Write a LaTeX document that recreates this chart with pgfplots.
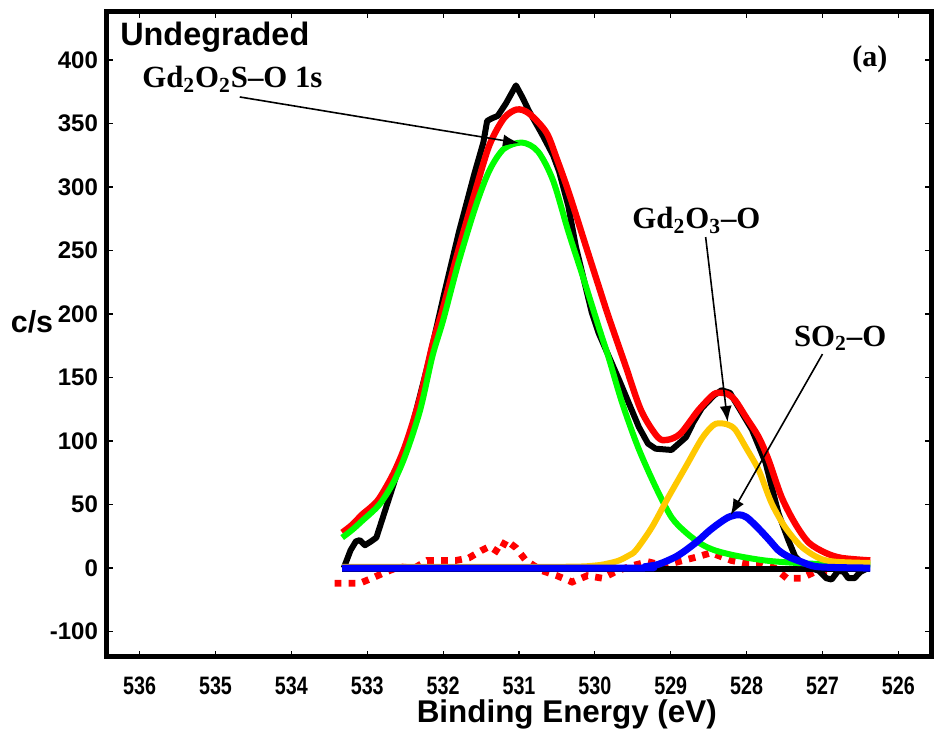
\documentclass[border=0pt]{standalone}
\usepackage{fontspec}
\setmainfont{Liberation Sans}
\newfontfamily\tnr{Liberation Serif}
\usepackage{graphicx}
\usepackage{pgfplots}
\pgfplotsset{compat=1.18}
\usetikzlibrary{arrows.meta}
\definecolor{fgreen}{RGB}{0,255,0}
\definecolor{fyellow}{RGB}{255,200,0}
\definecolor{fred}{RGB}{255,0,0}
\definecolor{fblue}{RGB}{0,0,255}
\newcommand\sx[1]{\scalebox{0.82}[1.05]{#1}}

\pgfplotstableread{
x y
533.31 0
533.22 14
533.15 21
533.10 22
533.03 18
532.95 21
532.88 24
532.75 48
532.62 72
532.41 111
532.18 165
531.99 215
531.79 265
531.59 310
531.47 335
531.42 352
531.36 354
531.28 356
531.17 366
531.04 380
530.95 370
530.87 360
530.70 342
530.55 325
530.47 312
530.35 285
530.25 253
530.04 201
529.95 185
529.68 148
529.42 111
529.30 98
529.20 94
528.99 93
528.80 103
528.70 115
528.59 126
528.43 136
528.33 140
528.22 138
528.11 127
527.93 109
527.75 83
527.58 43
527.45 22
527.36 9
527.22 1
527.05 -2
526.95 -8
526.88 -9
526.79 -2
526.72 -3
526.66 -8
526.58 -8
526.50 -3
526.40 0
}\rawdata

\pgfplotstableread{
x y
533.33 28
533.20 34
533.07 42
532.95 48
532.84 55
532.65 75
532.49 98
532.30 135
532.14 176
532.00 205
531.80 250
531.57 298
531.39 333
531.20 354
531.03 361
530.87 358
530.64 343
530.50 322
530.34 295
530.10 250
529.95 222
529.82 198
529.60 160
529.39 124
529.17 103
529.04 101
528.87 106
528.64 124
528.45 136
528.37 138
528.25 137
528.15 132
528.01 119
527.84 103
527.71 85
527.54 56
527.36 35
527.18 20
526.96 12
526.75 8
526.37 6
}\envelope

\pgfplotstableread{
x y
533.33 24
533.20 30
533.07 37
532.84 50
532.65 68
532.49 90
532.30 125
532.14 167
532.00 195
531.80 240
531.57 285
531.39 313
531.20 330
530.96 335
530.75 328
530.55 305
530.35 265
530.15 228
529.95 190
529.82 166
529.64 130
529.43 95
529.20 64
528.99 40
528.80 28
528.60 19
528.42 14
528.16 10
527.76 6
527.33 4
526.90 3
526.37 3
}\gdoxs

\pgfplotstableread{
x y
533.33 1
530.50 1
530.00 2
529.80 4
529.68 6
529.55 10
529.46 14
529.25 32
529.03 56
528.80 80
528.59 102
528.45 112
528.37 114
528.25 113
528.15 109
528.01 95
527.84 77
527.67 51
527.49 32
527.28 17
527.05 8
526.83 5
526.37 4
}\gdoxide

\pgfplotstableread{
x y
533.33 0
529.50 0
529.35 1
529.16 3
528.93 9
528.78 15
528.63 22
528.50 29
528.37 35
528.24 40
528.11 42
528.00 40
527.84 31
527.70 22
527.58 14
527.45 9
527.28 5
527.05 1
526.37 0
}\sotwo

\pgfplotstableread{
x y
533.43 -12
533.10 -12
532.94 -8
532.75 -3
532.58 1
532.38 0
532.21 6
532.01 6
531.83 6
531.66 8
531.49 14
531.39 17
531.26 12
531.17 22
531.04 16
530.91 6
530.70 -2
530.50 -6
530.30 -11
530.10 -6
529.90 -8
529.70 -2
529.50 2
529.30 5
529.10 2
528.90 5
528.64 9
528.47 12
528.20 6
528.03 4
527.84 4
527.63 0
527.47 -8
527.28 -8
527.10 -3
526.90 -4
526.75 0
526.47 5
526.37 5
}\resid

\begin{document}
\begin{tikzpicture}
\begin{axis}[
  scale only axis, width=412pt, height=322.5pt,
  x dir=reverse,
  xmin=525.57, xmax=536.43, ymin=-70, ymax=437.8,
  clip=false,
  axis line style={line width=2.5pt, line join=miter},
  tick align=inside, major tick length=3pt,
  tick style={black, line width=0.6pt},
  xtick={526,527,...,536},
  xticklabels={\sx{526},\sx{527},\sx{528},\sx{529},\sx{530},\sx{531},\sx{532},\sx{533},\sx{534},\sx{535},\sx{536}},
  ytick={-50,0,50,...,400},
  yticklabels={-100,0,50,100,150,200,250,300,350,400},
  xticklabel style={font=\bfseries\fontsize{12}{14}\selectfont, yshift=-6.5pt},
  yticklabel style={font=\bfseries\fontsize{12}{14}\selectfont, xshift=-1pt},
]
\addplot[fred, line width=3.4pt, dash pattern=on 3.4pt off 3.6pt, line cap=butt] table[x=x,y=y] {\resid};
\addplot[black, line width=3pt, line join=round] table[x=x,y=y] {\rawdata};
\addplot[black, line width=3pt] coordinates {(533.33,-1) (526.37,-1)};
\addplot[fred, line width=3.2pt, smooth, line join=round] table[x=x,y=y] {\envelope};
\addplot[fgreen, line width=3pt, smooth, line join=round] table[x=x,y=y] {\gdoxs};
\addplot[fyellow, line width=3pt, smooth, line join=round] table[x=x,y=y] {\gdoxide};
\addplot[fblue, line width=3.5pt, smooth, line join=round] table[x=x,y=y] {\sotwo};

\draw[line width=0.8pt, -{Latex[length=8pt,width=6pt]}] (axis cs:534.68,370.9) -- (axis cs:531.0,334.6);
\draw[line width=0.8pt, -{Latex[length=8pt,width=6pt]}] (axis cs:528.54,260.6) -- (axis cs:528.25,115);
\draw[line width=0.8pt, -{Latex[length=8pt,width=6pt]}] (axis cs:527.0,168.5) -- (axis cs:528.21,41.7);

\node[anchor=base west, inner sep=0pt, font=\bfseries\fontsize{16.2}{19}\selectfont] at (axis cs:536.26,411.8) {Undegraded};
\node[anchor=base west, inner sep=0pt, font=\tnr\bfseries\fontsize{15.4}{18}\selectfont] at (axis cs:535.97,378) {Gd\textsubscript{2}O\textsubscript{2}S–O 1s};
\node[anchor=base west, inner sep=0pt, font=\tnr\bfseries\fontsize{15.4}{18}\selectfont] at (axis cs:529.51,267) {Gd\textsubscript{2}O\textsubscript{3}–O};
\node[anchor=base west, inner sep=0pt, font=\tnr\bfseries\fontsize{15.4}{18}\selectfont] at (axis cs:527.38,174.8) {SO\textsubscript{2}–O};
\node[anchor=base west, inner sep=0pt, font=\tnr\bfseries\fontsize{15}{17}\selectfont] at (axis cs:526.61,394.5) {(a)};

\node[anchor=base, inner sep=0pt, font=\bfseries\fontsize{15.7}{18}\selectfont] at (rel axis cs:0.558,0) [yshift=-33pt] {Binding Energy (eV)};
\node[anchor=center, inner sep=0pt, font=\bfseries\fontsize{15.2}{18}\selectfont] at (rel axis cs:0,0.519) [xshift=-37.5pt] {c/s};
\end{axis}
\pgfresetboundingbox
\path (-53.5pt,-37pt) rectangle (414.5pt,328.5pt);
\end{tikzpicture}
\end{document}
